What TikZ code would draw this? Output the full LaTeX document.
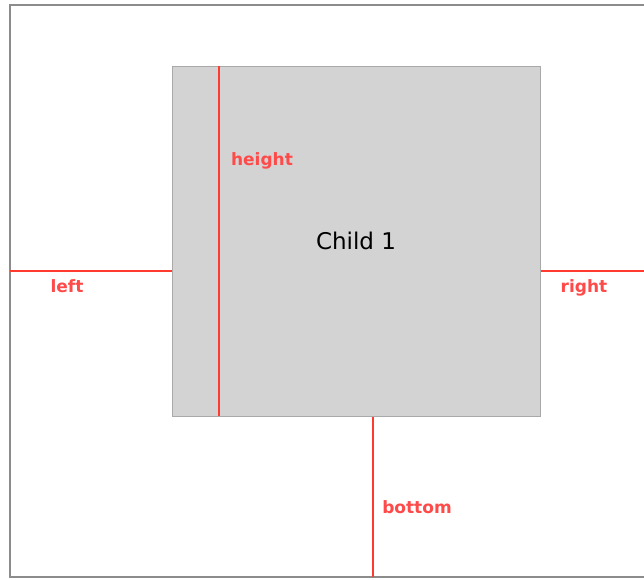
\documentclass[tikz,border=0pt]{standalone}
\usepackage{fontspec}
\setmainfont{DejaVu Sans}
\definecolor{framegray}{HTML}{8C8C8C}
\definecolor{boxfill}{HTML}{D3D3D3}
\definecolor{boxedge}{HTML}{A9A9A9}
\definecolor{linered}{HTML}{FF3B30}
\definecolor{textred}{HTML}{FF4A4A}
\begin{document}
\begin{tikzpicture}[x=1pt,y=-1pt,
  framestyle/.style={draw=framegray,line width=2pt},
  childbox/.style={draw=boxedge,fill=boxfill,line width=1pt,minimum width=368pt,minimum height=350pt,inner sep=0pt,font=\fontsize{23}{27}\selectfont},
  redline/.style={draw=linered,line width=2pt},
  lbl/.style={text=textred,font=\fontsize{17}{20}\selectfont\bfseries,inner sep=0pt}]
\useasboundingbox (0,0) rectangle (644,579);
\fill[white] (0,0) rectangle (644,579);
\draw[framestyle] (645,5) -- (10,5) -- (10,577) -- (645,577);
\node[childbox] (child) at (356,241) {Child 1};
\coordinate (lf) at (10,271);
\coordinate (rf) at (645,271);
\coordinate (bf) at (373,577);
\coordinate (ht) at (219,66);
\coordinate (hb) at (219,416);
\draw[redline] (lf) -- (lf -| child.west);
\draw[redline] (rf -| child.east) -- (rf);
\draw[redline] (bf |- child.south) -- (bf);
\draw[redline] (ht) -- (hb);
\node[lbl] (lleft) at (67,286) {left};
\node[lbl] (lright) at (584,288) {right};
\node[lbl] (lbottom) at (417,507) {bottom};
\node[lbl] (lheight) at (262,161) {height};
\end{tikzpicture}
\end{document}
